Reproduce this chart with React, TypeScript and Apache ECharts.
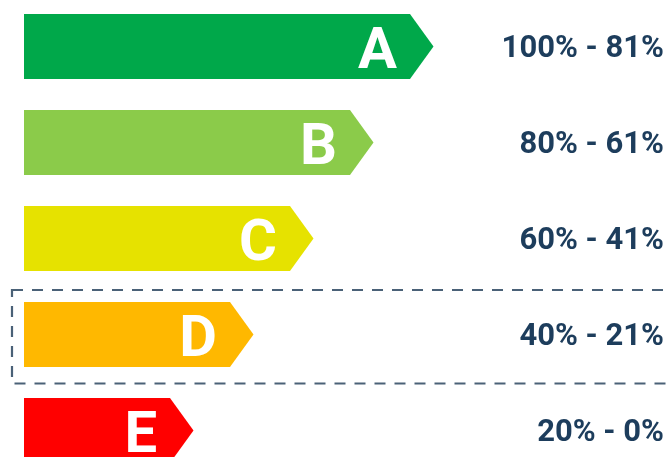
import React, { useEffect, useRef } from "react";
import * as echarts from "echarts";

const classes = ["A", "B", "C", "D", "E"];
const scores = [100, 80, 60, 40, 20];
const rangeLabels = ["100% - 81%", "80% - 61%", "60% - 41%", "40% - 21%", "20% - 0%"];
const colors = ["#00A84A", "#8BCB4A", "#E6E200", "#FFB800", "#FF0000"];
const highlighted = "D";

export default function App() {
  const ref = useRef<HTMLDivElement>(null);
  useEffect(() => {
    if (!ref.current) return;
    const chart = echarts.init(ref.current, undefined, { renderer: "svg" });
    const data = classes.map((c, i) => [scores[i], c, rangeLabels[i]]);
    chart.setOption({
      animation: false,
      grid: { left: 24, top: -1.5, width: 619.5, height: 480, outerBoundsMode: "none", containLabel: false },
      xAxis: { type: "value", min: -36.5, max: 170, show: false },
      yAxis: { type: "category", data: classes, inverse: true, show: false },
      series: [
        {
          type: "custom",
          data,
          encode: { x: 0, y: 1 },
          clip: false,
          renderItem: (params: any, api: any) => {
            const idx = params.dataIndex;
            const end = api.coord([api.value(0), idx]);
            const cy = end[1];
            const x0 = params.coordSys.x;
            const tipX = end[0];
            const tip = 23.5;
            const h = 65;
            const rectEnd = tipX - tip;
            const children: any[] = [];
            if (classes[idx] === highlighted) {
              children.push({
                type: "rect",
                shape: { x: 12, y: cy - 44.5, width: 680, height: 93.5 },
                style: { fill: "none", stroke: "#4A6177", lineWidth: 2.2, lineDash: [11, 9] },
              });
            }
            children.push({
              type: "polygon",
              shape: {
                points: [
                  [x0, cy - h / 2],
                  [rectEnd, cy - h / 2],
                  [tipX, cy],
                  [rectEnd, cy + h / 2],
                  [x0, cy + h / 2],
                ],
              },
              style: { fill: colors[idx] },
            });
            children.push({
              type: "text",
              style: {
                text: classes[idx],
                x: rectEnd - 13,
                y: cy + 1,
                align: "right",
                verticalAlign: "middle",
                fill: "#FFFFFF",
                fontSize: 58,
                fontWeight: "bold",
                fontFamily: "Roboto",
              },
            });
            children.push({
              type: "text",
              style: {
                text: rangeLabels[idx],
                x: 664,
                y: cy,
                align: "right",
                verticalAlign: "middle",
                fill: "#1D3D5C",
                fontSize: 31,
                fontWeight: "bold",
                fontFamily: "Roboto",
              },
            });
            return { type: "group", children };
          },
        },
      ],
    });
    return () => chart.dispose();
  }, []);
  return <div ref={ref} style={{ width: 672, height: 457, position: "fixed", left: 0, top: 0 }} />;
}
